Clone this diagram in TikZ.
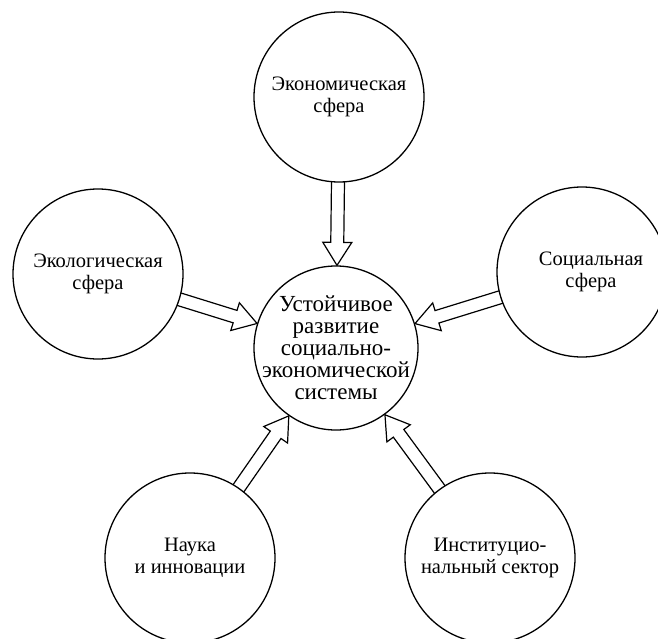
\documentclass[tikz,border=0pt]{standalone}
\usepackage{fontspec}
\setmainfont{Liberation Serif}
\usetikzlibrary{calc,backgrounds}

% hollow block arrow from one circle to another
\newcommand{\hollowarrow}[2]{%
  \path (#1) -- (#2) coordinate[pos=0] (#1-s) coordinate[pos=1] (#1-t);
  \draw[flow] let \p1=($(#1-t)-(#1-s)$), \n1={atan2(\y1,\x1)}, \n2={veclen(\x1,\y1)} in
    [shift={(#1-s)}, rotate=\n1]
    (-5pt,-6.5pt) -- (\n2-23pt,-6.5pt) -- (\n2-23pt,-14.5pt) -- (\n2,0pt)
    -- (\n2-23pt,14.5pt) -- (\n2-23pt,6.5pt) -- (-5pt,6.5pt);}

\begin{document}
\begin{tikzpicture}[x=1pt, y=-1pt]

\tikzset{sphere/.style = {shape=circle, draw, line width=1.3pt, fill=white, minimum size=170pt,
    inner sep=0pt, align=center, font=\fontsize{20.5}{21.5}\selectfont}}
\tikzset{core/.style = {minimum size=164pt, inner sep=-20pt, font=\fontsize{23}{22}\selectfont}}
\tikzset{flow/.style = {line width=1.2pt, line join=miter}}

\useasboundingbox (0,0) rectangle (658,639);
\clip (0,0) rectangle (658,639);

% circles
\node[sphere] (eco) at (339,97) {Экономическая\\сфера};
\node[sphere] (ecol) at (98,274) {Экологическая\\сфера};
\node[sphere] (soc) at (582,272) {\hspace*{18pt}Социальная\\\hspace*{18pt}сфера};
\node[sphere] (sci) at (190,558) {Наука\\и инновации};
\node[sphere] (inst) at (490,558) {Институцио-\\нальный сектор};
\node[sphere, core] (core) at (336,348) {Устойчивое\\развитие\\социально-\\экономической\\системы};

% arrows
\begin{scope}[on background layer]
  \hollowarrow{eco}{core}
  \hollowarrow{ecol}{core}
  \hollowarrow{soc}{core}
  \hollowarrow{sci}{core}
  \hollowarrow{inst}{core}
\end{scope}

\end{tikzpicture}
\end{document}
